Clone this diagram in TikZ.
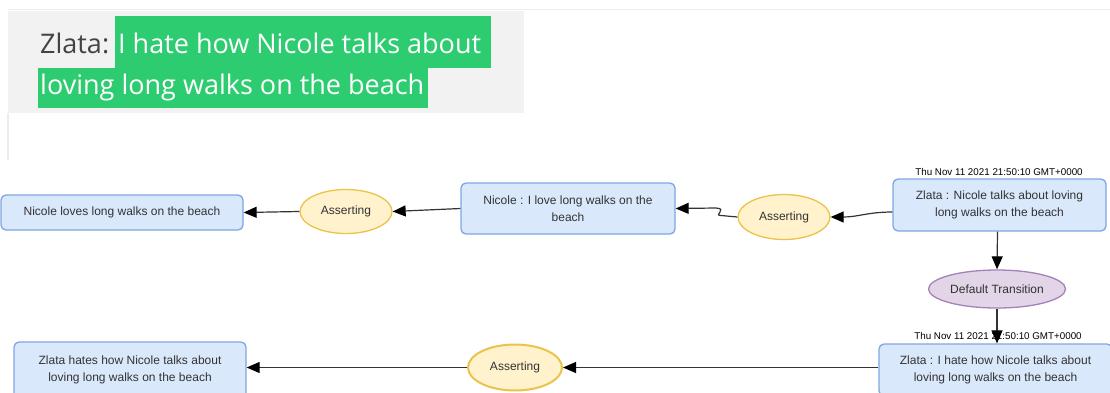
\documentclass[tikz,border=0pt]{standalone}
\usepackage{fontspec}
\setmainfont{Liberation Sans}
\newfontfamily\chatfont{Open Sans}
\usetikzlibrary{arrows.meta,shapes.geometric}

\definecolor{boxfill}{HTML}{DAE8FC}
\definecolor{boxline}{HTML}{7EA6E0}
\definecolor{assertfill}{HTML}{FFF2CC}
\definecolor{assertline}{HTML}{EBC24A}
\definecolor{transfill}{HTML}{E1D5E7}
\definecolor{transline}{HTML}{A680B8}
\definecolor{hilite}{HTML}{2ECC71}
\definecolor{panel}{HTML}{F2F2F2}
\definecolor{rule}{HTML}{ECECEC}
\definecolor{ink}{HTML}{333333}
\definecolor{speaker}{HTML}{444444}

\begin{document}
\begin{tikzpicture}[x=1pt,y=-1pt,
  stmt/.style={draw=boxline, fill=boxfill, line width=1.3pt, rounded corners=5pt,
    align=center, inner sep=0pt, text=ink, font=\fontsize{12}{17}\selectfont},
  assert/.style={ellipse, draw=assertline, fill=assertfill, line width=1.3pt,
    inner sep=0pt, text=ink, font=\fontsize{12}{14}\selectfont},
  trans/.style={ellipse, draw=transline, fill=transfill, line width=1.3pt,
    inner sep=0pt, text=ink, font=\fontsize{12}{14}\selectfont},
  stamp/.style={inner sep=0pt, text=black, font=\fontsize{9.8}{11}\selectfont},
  chat/.style={anchor=base west, inner sep=0pt, font=\chatfont\fontsize{27}{30}\selectfont},
  flow/.style={draw=ink, line width=1.2pt,
    -{Triangle[length=13pt,width=11pt,fill=black,color=black]}},
]
\path[use as bounding box] (0,0) rectangle (1110,392);
\clip (0,0) rectangle (1110,392);

% chat message panel
\draw[rule, line width=1.5pt] (8,9.5) -- (1110,9.5);
\fill[panel] (8,11) rectangle (524,113);
\draw[rule, line width=1.2pt] (8,113) -- (8,160);
\fill[hilite] (115,15.5) rectangle (491,68);
\fill[hilite] (38,68) rectangle (428,108);
\node[chat, text=speaker] (who) at (40,53) {Zlata:};
\node[chat, text=white] (msg1) at (118,53) {I hate how Nicole talks about};
\node[chat, text=white] (msg2) at (40,94) {loving long walks on the beach};

% upper row
\node[stmt, minimum width=242pt, minimum height=35pt] (b1) at (122,212.5)
  {Nicole loves long walks on the beach};
\node[assert, minimum width=92pt, minimum height=44pt] (a1) at (346,211.5) {Asserting};
\node[stmt, minimum width=214pt, minimum height=51pt] (n1) at (568,208.5)
  {Nicole : I love long walks on the\\beach};
\node[assert, minimum width=92pt, minimum height=45pt] (a2) at (784,217) {Asserting};
\node[stmt, minimum width=213pt, minimum height=52pt] (z1) at (999.5,205)
  {Zlata : Nicole talks about loving\\long walks on the beach};
\node[stamp] (t1) at (999,172) {Thu Nov 11 2021 21:50:10 GMT+0000};

% transition
\node[trans, minimum width=137pt, minimum height=38pt] (dt) at (997,289) {Default Transition};

% lower row
\node[stmt, minimum width=233pt, minimum height=52pt] (z2) at (995.5,370)
  {Zlata : I hate how Nicole talks about\\loving long walks on the beach};
\node[stamp] (t2) at (998,336) {Thu Nov 11 2021 21:50:10 GMT+0000};
\node[assert, line width=2pt, minimum width=94pt, minimum height=46pt] (a3) at (515,367.5) {Asserting};
\node[stmt, minimum width=232pt, minimum height=56pt] (z3) at (130,370)
  {Zlata hates how Nicole talks about\\loving long walks on the beach};

% squiggle points of the curved connector
\coordinate (q1) at (721,215.5);
\coordinate (q2) at (716,208);

% connectors
\draw[flow] ([yshift=-7pt]z1.west) .. controls (868,212) and (858,217) .. (a2.east);
\draw[flow] (a2.west) -- (q1) .. controls (713,215.5) and (728,208.5) .. (q2) -- (n1.east);
\draw[flow] (n1.west) -- (a1.east);
\draw[flow] (a1.west) -- (b1.east);
\draw[flow] ([xshift=-2pt]z1.south) -- (dt.north);
\draw[flow] (dt.south) -- (dt.south |- z2.north);
\draw[flow] (z2.west |- a3.east) -- (a3.east);
\draw[flow] (a3.west) -- (z3.east |- a3.west);
\end{tikzpicture}
\end{document}
